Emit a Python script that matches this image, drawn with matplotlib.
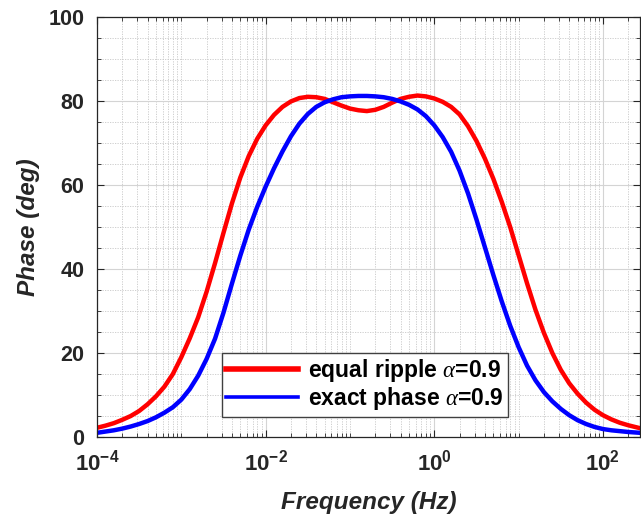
import matplotlib
matplotlib.use("Agg")
import matplotlib.pyplot as plt
import numpy as np
from matplotlib.ticker import FixedLocator, NullFormatter, MultipleLocator

# log10 of frequency (Hz) and phase (deg)
ripple_logf = [-4.0, -3.9, -3.8, -3.7, -3.6, -3.5, -3.4, -3.3, -3.2, -3.1, -3.0,
               -2.9, -2.8, -2.7, -2.6, -2.5, -2.4, -2.3, -2.2, -2.1, -2.0,
               -1.9, -1.8, -1.7, -1.6, -1.5, -1.4, -1.3, -1.2, -1.1, -1.0,
               -0.9, -0.8, -0.7, -0.6, -0.5, -0.4, -0.3, -0.2, -0.1, 0.0,
               0.1, 0.2, 0.3, 0.4, 0.5, 0.6, 0.7, 0.8, 0.9, 1.0,
               1.1, 1.2, 1.3, 1.4, 1.5, 1.6, 1.7, 1.8, 1.9, 2.0,
               2.1, 2.2, 2.3, 2.44]
ripple_phase = [2.2, 2.7, 3.3, 4.1, 5.0, 6.2, 7.8, 9.7, 12.0, 15.0, 19.0,
                23.5, 28.5, 34.6, 41.4, 48.6, 55.6, 61.8, 66.9, 71.0, 74.2,
                76.7, 78.6, 79.9, 80.7, 81.0, 80.9, 80.5, 79.7, 78.9, 78.2,
                77.8, 77.6, 77.9, 78.6, 79.6, 80.5, 81.0, 81.3, 81.1, 80.6,
                79.8, 78.6, 76.8, 74.0, 70.5, 66.3, 61.5, 56.0, 50.0, 43.3,
                36.6, 30.3, 24.8, 20.0, 16.0, 12.8, 10.3, 8.2, 6.5, 5.2,
                4.2, 3.4, 2.8, 2.1]

exact_logf = [-4.0, -3.9, -3.8, -3.7, -3.6, -3.5, -3.4, -3.3, -3.2, -3.1, -3.0,
              -2.9, -2.8, -2.7, -2.6, -2.5, -2.4, -2.3, -2.2, -2.1, -2.0,
              -1.9, -1.8, -1.7, -1.6, -1.5, -1.4, -1.3, -1.2, -1.1, -1.0,
              -0.9, -0.8, -0.7, -0.6, -0.5, -0.4, -0.3, -0.2, -0.1, 0.0,
              0.1, 0.2, 0.3, 0.4, 0.5, 0.6, 0.7, 0.8, 0.9, 1.0,
              1.1, 1.2, 1.3, 1.4, 1.5, 1.6, 1.7, 1.8, 1.9, 2.0,
              2.1, 2.3, 2.44]
exact_phase = [1.0, 1.3, 1.6, 2.0, 2.5, 3.1, 3.8, 4.7, 5.8, 7.1, 8.9,
               11.4, 14.6, 18.6, 23.4, 29.6, 36.5, 43.2, 49.4, 54.8, 59.6,
               64.0, 68.0, 71.6, 74.6, 76.9, 78.6, 79.7, 80.4, 80.9, 81.1,
               81.2, 81.2, 81.1, 80.9, 80.5, 79.9, 79.1, 78.0, 76.4, 74.2,
               71.4, 67.9, 63.4, 58.0, 51.8, 45.2, 38.6, 32.3, 26.5, 21.4,
               17.0, 13.5, 10.7, 8.5, 6.7, 5.2, 4.0, 3.1, 2.4, 1.9,
               1.6, 1.2, 1.0]

x_labels = [r"$\mathbf{10^{-4}}$", r"$\mathbf{10^{-2}}$", r"$\mathbf{10^{0}}$", r"$\mathbf{10^{2}}$"]
x_major = [1e-4, 1e-2, 1e0, 1e2]

plt.rcParams["font.family"] = ["Liberation Sans", "DejaVu Sans"]
plt.rcParams["mathtext.fontset"] = "custom"
plt.rcParams["mathtext.rm"] = "Liberation Sans:bold"
plt.rcParams["mathtext.bf"] = "Liberation Sans:bold"
plt.rcParams["mathtext.it"] = "Liberation Serif:italic"

TXT = "#262626"

fig = plt.figure(figsize=(6.41, 5.23), dpi=100)
ax = fig.add_axes([0.1513, 0.1644, 0.8472, 0.8031])

f_ripple = 10 ** np.array(ripple_logf)
f_exact = 10 ** np.array(exact_logf)
ax.plot(f_ripple, ripple_phase, color="#ff0000", lw=3.2,
        label=r"equal ripple $\alpha$=0.9")
ax.plot(f_exact, exact_phase, color="#0000ff", lw=3.2,
        label=r"exact phase $\alpha$=0.9")

ax.set_xscale("log")
ax.set_xlim(1e-4, 10 ** 2.44)
ax.set_ylim(0, 100)

ax.xaxis.set_major_locator(FixedLocator(x_major))
ax.set_xticklabels(x_labels)
minor = [m * 10.0 ** e for e in range(-4, 3) for m in range(1, 10)
         if not (m == 1 and e % 2 == 0)]
ax.xaxis.set_minor_locator(FixedLocator(minor))
ax.xaxis.set_minor_formatter(NullFormatter())
ax.yaxis.set_major_locator(MultipleLocator(20))
ax.yaxis.set_minor_locator(MultipleLocator(5))

ax.grid(True, which="major", color="#d4d4d4", lw=0.8, ls="-")
ax.grid(True, which="minor", color="#c8c8c8", lw=0.6, ls=(0, (1.5, 1.5)))
ax.set_axisbelow(True)

ax.tick_params(which="both", direction="in", top=True, right=True, colors=TXT)
ax.tick_params(which="major", length=5, width=0.8, pad=9)
ax.tick_params(axis="x", which="major", labelsize=16)
ax.tick_params(axis="y", which="major", labelsize=15.5)
ax.tick_params(which="minor", length=3, width=0.6)
for lab in ax.get_yticklabels():
    lab.set_fontweight("bold")
for sp in ax.spines.values():
    sp.set_color(TXT)
    sp.set_linewidth(0.9)

ax.set_xlabel("Frequency (Hz)", fontsize=17.5, fontweight="bold", style="italic",
              color=TXT, labelpad=11)
ax.set_ylabel("Phase (deg)", fontsize=17.5, fontweight="bold", style="italic",
              color=TXT, labelpad=6)

leg = ax.legend(loc="lower left", bbox_to_anchor=(0.230, 0.048), borderaxespad=0,
                fancybox=False, edgecolor="#404040", framealpha=1,
                prop={"weight": "bold", "size": 16.5}, handlelength=3.1,
                borderpad=0.2, labelspacing=0.05, handletextpad=0.45)
leg.get_frame().set_linewidth(1.0)
leg_lines = leg.get_lines()
leg_lines[0].set_linewidth(4.0)
leg_lines[1].set_linewidth(2.6)

fig.savefig("out.png", dpi=100)
